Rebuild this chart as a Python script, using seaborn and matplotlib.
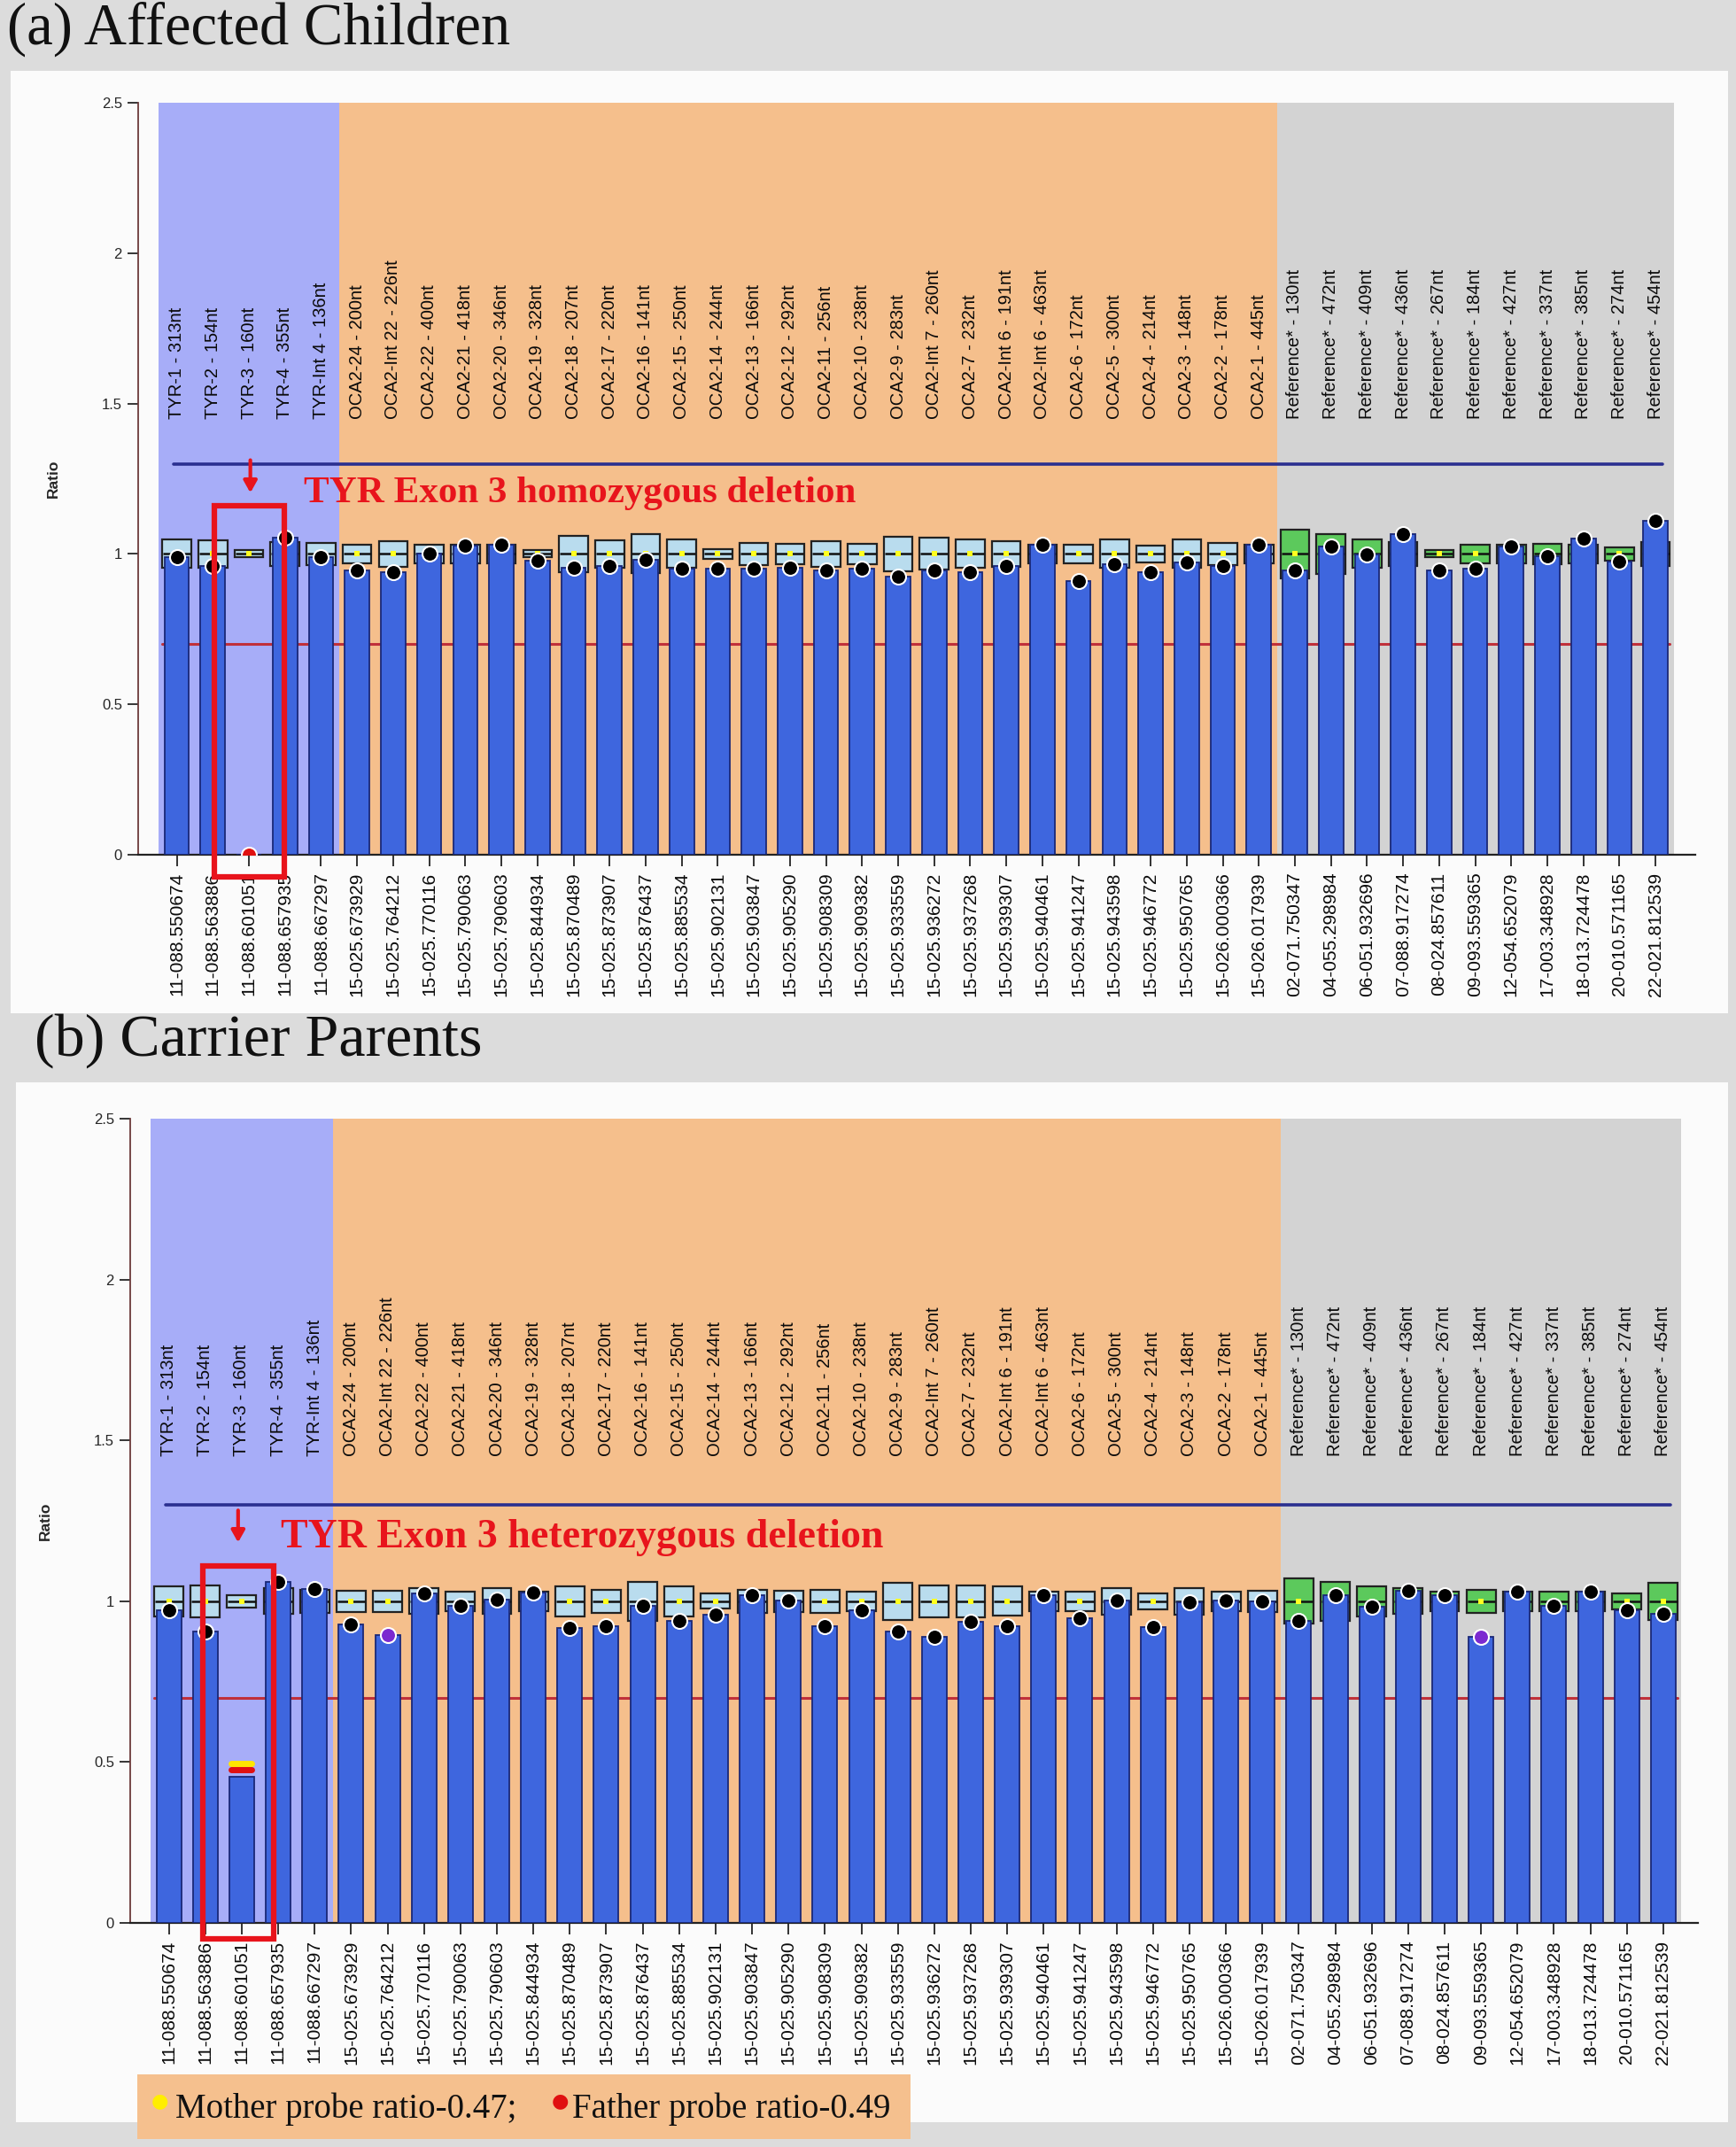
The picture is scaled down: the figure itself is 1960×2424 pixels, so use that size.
import numpy as np
import pandas as pd
import matplotlib
matplotlib.use("Agg")
import matplotlib.pyplot as plt
from matplotlib.patches import Rectangle
import seaborn as sns

# ---------------- data ----------------
probes = ["TYR-1 - 313nt", "TYR-2 - 154nt", "TYR-3 - 160nt", "TYR-4 - 355nt", "TYR-Int 4 - 136nt",
          "OCA2-24 - 200nt", "OCA2-Int 22 - 226nt", "OCA2-22 - 400nt", "OCA2-21 - 418nt", "OCA2-20 - 346nt",
          "OCA2-19 - 328nt", "OCA2-18 - 207nt", "OCA2-17 - 220nt", "OCA2-16 - 141nt", "OCA2-15 - 250nt",
          "OCA2-14 - 244nt", "OCA2-13 - 166nt", "OCA2-12 - 292nt", "OCA2-11 - 256nt", "OCA2-10 - 238nt",
          "OCA2-9 - 283nt", "OCA2-Int 7 - 260nt", "OCA2-7 - 232nt", "OCA2-Int 6 - 191nt", "OCA2-Int 6 - 463nt",
          "OCA2-6 - 172nt", "OCA2-5 - 300nt", "OCA2-4 - 214nt", "OCA2-3 - 148nt", "OCA2-2 - 178nt",
          "OCA2-1 - 445nt",
          "Reference* - 130nt", "Reference* - 472nt", "Reference* - 409nt", "Reference* - 436nt",
          "Reference* - 267nt", "Reference* - 184nt", "Reference* - 427nt", "Reference* - 337nt",
          "Reference* - 385nt", "Reference* - 274nt", "Reference* - 454nt"]

positions = ["11-088.550674", "11-088.563886", "11-088.601051", "11-088.657935", "11-088.667297",
             "15-025.673929", "15-025.764212", "15-025.770116", "15-025.790063", "15-025.790603",
             "15-025.844934", "15-025.870489", "15-025.873907", "15-025.876437", "15-025.885534",
             "15-025.902131", "15-025.903847", "15-025.905290", "15-025.908309", "15-025.909382",
             "15-025.933559", "15-025.936272", "15-025.937268", "15-025.939307", "15-025.940461",
             "15-025.941247", "15-025.943598", "15-025.946772", "15-025.950765", "15-026.000366",
             "15-026.017939",
             "02-071.750347", "04-055.298984", "06-051.932696", "07-088.917274", "08-024.857611",
             "09-093.559365", "12-054.652079", "17-003.348928", "18-013.724478", "20-010.571165",
             "22-021.812539"]

group = ["TYR"] * 5 + ["OCA2"] * 26 + ["Reference"] * 11

ratio_children = [0.99, 0.96, 0.00, 1.055, 0.99,
                  0.944, 0.94, 1.00, 1.028, 1.032, 0.977, 0.955, 0.96, 0.98, 0.951,
                  0.952, 0.95, 0.955, 0.945, 0.95, 0.924, 0.946, 0.94, 0.96, 1.03,
                  0.91, 0.967, 0.94, 0.973, 0.96, 1.03,
                  0.944, 1.025, 0.998, 1.065, 0.944, 0.95, 1.025, 0.993, 1.05, 0.976, 1.11]

ci_children = [0.047, 0.045, 0.012, 0.04, 0.037,
               0.032, 0.043, 0.032, 0.03, 0.03, 0.012, 0.06, 0.045, 0.065, 0.047,
               0.017, 0.037, 0.033, 0.043, 0.033, 0.058, 0.053, 0.047, 0.043, 0.03,
               0.031, 0.047, 0.027, 0.047, 0.037, 0.03,
               0.082, 0.067, 0.047, 0.04, 0.012, 0.032, 0.03, 0.033, 0.03, 0.022, 0.04]

ratio_parents = [0.973, 0.905, 0.455, 1.06, 1.038,
                 0.927, 0.895, 1.024, 0.987, 1.006, 1.028, 0.918, 0.923, 0.987, 0.94,
                 0.957, 1.02, 1.003, 0.923, 0.973, 0.905, 0.89, 0.935, 0.923, 1.02,
                 0.946, 1.003, 0.92, 0.996, 1.003, 1.0,
                 0.94, 1.02, 0.983, 1.033, 1.02, 0.89, 1.03, 0.987, 1.03, 0.973, 0.96]

ci_parents = [0.047, 0.05, 0.02, 0.04, 0.035,
              0.033, 0.033, 0.04, 0.03, 0.04, 0.03, 0.046, 0.035, 0.06, 0.046,
              0.023, 0.035, 0.033, 0.035, 0.03, 0.057, 0.05, 0.05, 0.045, 0.03,
              0.03, 0.042, 0.025, 0.042, 0.03, 0.033,
              0.07, 0.06, 0.047, 0.04, 0.03, 0.035, 0.03, 0.03, 0.03, 0.025, 0.057]

# dot colour codes: k = black, r = red (deleted), p = purple, n = none
dots_children = ["k", "k", "r"] + ["k"] * 39
dots_parents = ["k", "k", "n"] + ["k"] * 3 + ["p"] + ["k"] * 29 + ["p"] + ["k"] * 6

mother_ratio = 0.47
father_ratio = 0.49
mother_mark = 0.495   # drawn position of the yellow stripe
father_mark = 0.475   # drawn position of the red stripe

upper_limit = 1.3
lower_limit = 0.7

# ---------------- style ----------------
sns.set_style("white")
plt.rcParams["font.family"] = ["Liberation Sans", "DejaVu Sans"]

FIG_BG = "#dcdcdc"
PANEL_BG = "#fbfbfb"
BAR = "#3e66de"
BAR_EDGE = "#1a2878"
SPAN_COL = {"TYR": "#a7adf8", "OCA2": "#f5bf8c", "Reference": "#d3d3d3"}
BOX_COL = {"TYR": "#b9dcee", "OCA2": "#b9dcee", "Reference": "#5cc95c"}
DOT_COL = {"k": "#000000", "r": "#e01010", "p": "#7b2ad0"}
RED = "#e8141c"

fig = plt.figure(figsize=(19.6, 24.24), dpi=100, facecolor=FIG_BG)


def px_rect(x0, y0, x1, y1):
    W, H = 1960.0, 2424.0
    return [x0 / W, 1 - y1 / H, (x1 - x0) / W, (y1 - y0) / H]


# white panels
for (x0, y0, x1, y1) in [(12, 80, 1951, 1144), (18, 1222, 1951, 2396)]:
    l, b, w, h = px_rect(x0, y0, x1, y1)
    fig.patches.append(Rectangle((l, b), w, h, transform=fig.transFigure,
                                 facecolor=PANEL_BG, edgecolor="none", zorder=-5))

ax_a = fig.add_axes(px_rect(156, 116, 1914, 965))
ax_b = fig.add_axes(px_rect(147, 1263, 1917, 2171))

n = len(probes)
idx = np.arange(n)


def draw_panel(ax, ratio, ci, dots, xlim):
    ax.set_facecolor(PANEL_BG)
    # shaded probe groups
    start = 0
    for g in ["TYR", "OCA2", "Reference"]:
        cnt = group.count(g)
        ax.axvspan(start - 0.5, start + cnt - 0.5, ymin=0, ymax=1, color=SPAN_COL[g],
                   lw=0, zorder=0)
        start += cnt
    # limit lines
    ax.plot([-0.1, n - 0.8], [upper_limit, upper_limit], color="#2a2f90", lw=2.6, zorder=1.5)
    ax.plot([-0.4, n - 0.6], [lower_limit, lower_limit], color="#c0303a", lw=2.2, zorder=1.5)
    # reference boxes (behind bars)
    ci = np.asarray(ci)
    for g in ["TYR", "OCA2", "Reference"]:
        m = np.array([gg == g for gg in group])
        ax.bar(idx[m], 2 * ci[m], bottom=1 - ci[m], width=0.8, color=BOX_COL[g],
               edgecolor="#222222", linewidth=1.6, zorder=2)
    ax.hlines(np.ones(n), idx - 0.38, idx + 0.38, color="#111111", lw=1.8, zorder=2.2)
    ax.scatter(idx, np.ones(n), marker="s", s=22, color="#ffff20", zorder=2.4, lw=0)
    # ratio bars
    df = pd.DataFrame({"pos": positions, "ratio": ratio})
    sns.barplot(data=df, x="pos", y="ratio", order=positions, color=BAR, saturation=1,
                width=0.68, edgecolor=BAR_EDGE, linewidth=1.3, errorbar=None, ax=ax, zorder=3)
    # ratio dots
    for code in ["k", "r", "p"]:
        sel = [i for i in range(n) if dots[i] == code]
        if not sel:
            continue
        sns.scatterplot(x=idx[sel], y=np.asarray(ratio)[sel], color=DOT_COL[code], s=150,
                        edgecolor="white", linewidth=1.5, zorder=5, ax=ax, legend=False)
    # probe names on top
    for i, p in enumerate(probes):
        ax.text(i, 1.45, p, rotation=90, ha="center", va="bottom", fontsize=14.5,
                color="#0a0a0a", zorder=4)
    ax.set_xlim(*xlim)
    ax.set_ylim(0, 2.5)
    ax.set_xticks(idx)
    ax.set_xticklabels(positions, rotation=90, fontsize=15, color="#0a0a0a")
    ax.set_yticks([0, 0.5, 1, 1.5, 2, 2.5])
    ax.set_yticklabels(["0", "0.5", "1", "1.5", "2", "2.5"], fontsize=12)
    ax.tick_params(axis="x", direction="out", length=9, width=1.3, pad=5, colors="#222222",
                   labelcolor="#0a0a0a", bottom=True)
    ax.tick_params(axis="y", direction="out", length=9, width=1.3, pad=4, left=True)
    for s in ["top", "right"]:
        ax.spines[s].set_visible(False)
    ax.spines["left"].set_color("#6b3a3a")
    ax.spines["left"].set_linewidth(1.3)
    ax.spines["bottom"].set_color("#222222")
    ax.spines["bottom"].set_linewidth(1.6)
    ax.set_xlabel("")
    ax.set_ylabel("Ratio", fontsize=12.5, fontweight="bold")
    ax.yaxis.set_label_coords(-0.05, 0.5)
    ax.grid(False)


draw_panel(ax_a, ratio_children, ci_children, dots_children, (-1.07, 42.1))
draw_panel(ax_b, ratio_parents, ci_parents, dots_parents, (-1.06, 41.95))

# parental probe ratio stripes on TYR-3 (panel b)
ax_b.plot([1.72, 2.28], [mother_mark, mother_mark], color="#ffe600", lw=5,
          solid_capstyle="round", zorder=6)
ax_b.plot([1.72, 2.28], [father_mark, father_mark], color="#e01010", lw=5,
          solid_capstyle="round", zorder=6)

# annotations
SERIF = ["Liberation Serif", "DejaVu Serif"]
ax_a.add_patch(Rectangle((1.04, -0.073), 1.95, 1.233, fill=False, edgecolor=RED, lw=4.5,
                         zorder=7, clip_on=False))
ax_a.annotate("", xy=(2.04, 1.195), xytext=(2.04, 1.32),
              arrowprops=dict(arrowstyle="-|>,head_length=0.8,head_width=0.45", color=RED,
                              lw=3), zorder=7)
ax_a.text(3.53, 1.2, "TYR Exon 3 homozygous deletion", color=RED, fontsize=31,
          fontweight="bold", family=SERIF, ha="left", va="center", zorder=7)

ax_b.add_patch(Rectangle((0.93, -0.05), 1.95, 1.16, fill=False, edgecolor=RED, lw=4.5,
                         zorder=7, clip_on=False))
ax_b.annotate("", xy=(1.9, 1.175), xytext=(1.9, 1.29),
              arrowprops=dict(arrowstyle="-|>,head_length=0.8,head_width=0.45", color=RED,
                              lw=3), zorder=7)
ax_b.text(3.07, 1.197, "TYR Exon 3 heterozygous deletion", color=RED, fontsize=33,
          fontweight="bold", family=SERIF, ha="left", va="center", zorder=7)

# panel titles
fig.text(8 / 1960, 1 - 33 / 2424, "(a) Affected Children", fontsize=48, family=SERIF,
         ha="left", va="center", color="#111111")
fig.text(39 / 1960, 1 - 1175 / 2424, "(b) Carrier Parents", fontsize=49, family=SERIF,
         ha="left", va="center", color="#111111")

# legend box for parental ratios
l, b, w, h = px_rect(155, 2342, 1028, 2415)
fig.patches.append(Rectangle((l, b), w, h, transform=fig.transFigure,
                             facecolor="#f5c08e", edgecolor="none", zorder=-4))
ty = 1 - 2381 / 2424
fig.text(180 / 1960, 1 - 2372 / 2424, "\u25CF", color="#ffee00", fontsize=16,
         family=["DejaVu Sans"], ha="center", va="center")
fig.text(198 / 1960, ty, f"Mother probe ratio-{mother_ratio:.2f};", fontsize=28,
         family=SERIF, ha="left", va="center", color="#111111")
fig.text(632 / 1960, 1 - 2372 / 2424, "\u25CF", color="#e01010", fontsize=16,
         family=["DejaVu Sans"], ha="center", va="center")
fig.text(646 / 1960, ty, f"Father probe ratio-{father_ratio:.2f}", fontsize=28,
         family=SERIF, ha="left", va="center", color="#111111")

fig.savefig("out.png", dpi=100, facecolor=FIG_BG)
